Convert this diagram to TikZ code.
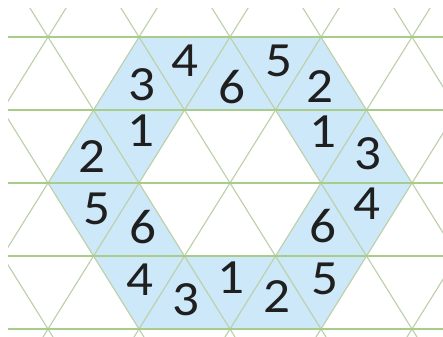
\documentclass[tikz,border=0pt]{standalone}
\usepackage{fontspec}
\newfontfamily\numfont[FakeStretch=1.08]{Carlito}
\definecolor{gridgreen}{RGB}{168,204,138}
\definecolor{diaggreen}{RGB}{188,208,168}
\definecolor{ringblue}{RGB}{205,232,248}

\begin{document}
\begin{tikzpicture}[x=1.1375cm,y=-1.825cm]
\tikzstyle{num}=[inner sep=0pt,font=\numfont\fontsize{35}{35}\selectfont,text=black!88]
\tikzstyle{hline}=[draw=gridgreen,line width=1.3pt]
\tikzstyle{dline}=[draw=diaggreen,line width=0.8pt]
\useasboundingbox (-1.055,-0.507) rectangle (8.681,4.096);

% blue ring
\fill[ringblue,even odd rule] (2,0) -- (6,0) -- (8,2) -- (6,4) -- (2,4) -- (0,2) -- cycle
  (3,1) -- (5,1) -- (6,2) -- (5,3) -- (3,3) -- (2,2) -- cycle;

% triangle grid
\begin{scope}
\clip (-0.879,-0.397) rectangle (8.681,4.096);
\foreach \c in {-4,-2,...,8} \path[dline] (\c-1,-1) -- (\c+5,5);
\foreach \c in {0,2,...,12} \path[dline] (\c+1,-1) -- (\c-5,5);
\foreach \r in {0,...,4} \path[hline] (-2,\r) -- (10,\r);
\end{scope}

% top row
\node[num](t1) at (2.07,0.65){3};
\node[num](t2) at (3.01,0.33){4};
\node[num](t3) at (4.04,0.69){6};
\node[num](t4) at (5.07,0.33){5};
\node[num](t5) at (5.98,0.68){2};

% left side
\node[num](l1) at (2.04,1.28){1};
\node[num](l2) at (0.97,1.64){2};
\node[num](l3) at (1.08,2.36){5};
\node[num](l4) at (2.09,2.60){6};

% right side
\node[num](r1) at (6.04,1.30){1};
\node[num](r2) at (7.03,1.60){3};
\node[num](r3) at (7.01,2.29){4};
\node[num](r4) at (6.04,2.59){6};

% bottom row
\node[num](b1) at (2.02,3.32){4};
\node[num](b2) at (3.03,3.60){3};
\node[num](b3) at (4.02,3.30){1};
\node[num](b4) at (5.03,3.55){2};
\node[num](b5) at (6.09,3.32){5};
\end{tikzpicture}
\end{document}
